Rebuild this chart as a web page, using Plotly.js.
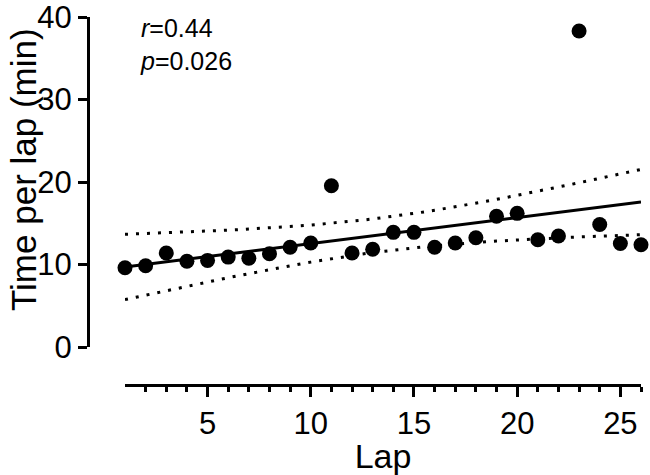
<!DOCTYPE html>
<html>
<head>
<meta charset="utf-8">
<script src="https://cdn.plot.ly/plotly-3.0.1.min.js"></script>
<style>html,body{margin:0;padding:0;background:#fff;}#chart{width:650px;height:475px;}</style>
</head>
<body>
<div id="chart"></div>
<script>
// Lap number
const laps = [1,2,3,4,5,6,7,8,9,10,11,12,13,14,15,16,17,18,19,20,21,22,23,24,25,26];
// Time per lap (min)
const lapTimes = [9.6,9.85,11.4,10.4,10.5,10.9,10.75,11.3,12.1,12.6,19.55,11.4,11.85,13.9,13.9,12.1,12.6,13.25,15.85,16.2,13.0,13.45,38.3,14.85,12.55,12.4];
const yTicks = [0,10,20,30,40];
const xTicks = [5,10,15,20,25];
const xTitle = "Lap";
const yTitle = "Time per lap (min)";
const statText = "<i>r</i>=0.44<br><i>p</i>=0.026";

// Linear regression with 95% confidence band, computed from the data
const n = laps.length;
const mx = laps.reduce((a,b)=>a+b,0)/n;
const my = lapTimes.reduce((a,b)=>a+b,0)/n;
let sxx=0, sxy=0;
for (let i=0;i<n;i++){ sxx += (laps[i]-mx)**2; sxy += (laps[i]-mx)*(lapTimes[i]-my); }
const slope = sxy/sxx, icpt = my - slope*mx;
let sse=0;
for (let i=0;i<n;i++){ sse += (lapTimes[i]-(icpt+slope*laps[i]))**2; }
const s = Math.sqrt(sse/(n-2));
const tcrit = 2.064; // t(0.975, 24)
const fitX=[], fitY=[], upY=[], loY=[];
const x0 = laps[0], x1 = laps[n-1];
for (let k=0;k<=50;k++){
  const x = x0 + (x1-x0)*k/50;
  const yh = icpt + slope*x;
  const se = s*Math.sqrt(1/n + (x-mx)**2/sxx);
  fitX.push(x); fitY.push(yh); upY.push(yh+tcrit*se); loY.push(yh-tcrit*se);
}

const FONT = "Liberation Sans, Arial, Helvetica, sans-serif";
const dotLine = {color:"#000", width:3, dash:"3px,8px"};

const traces = [
  {x:fitX, y:upY, mode:"lines", line:dotLine, hoverinfo:"skip", showlegend:false, cliponaxis:false},
  {x:fitX, y:loY, mode:"lines", line:dotLine, hoverinfo:"skip", showlegend:false, cliponaxis:false},
  {x:fitX, y:fitY, mode:"lines", line:{color:"#000", width:3}, hoverinfo:"skip", showlegend:false, cliponaxis:false},
  {x:laps, y:lapTimes, mode:"markers", marker:{color:"#000", size:15}, showlegend:false, cliponaxis:false}
];

const layout = {
  width:650, height:475,
  margin:{l:88, r:9, t:17, b:90, autoexpand:false},
  paper_bgcolor:"#fff", plot_bgcolor:"#fff",
  font:{family:FONT, color:"#000"},
  showlegend:false,
  xaxis:{
    domain:[37/553, 1],
    range:[1,26],
    anchor:"free", position:0,
    showgrid:false, zeroline:false,
    showline:true, linecolor:"#000", linewidth:3,
    tickmode:"array", tickvals:xTicks, ticktext:xTicks.map(String),
    ticks:"outside", ticklen:10, tickwidth:3, tickcolor:"#000",
    tickfont:{size:31, family:FONT}, ticklabeloverflow:"allow",
    minor:{tickmode:"array", tickvals:laps.slice(1), ticks:"outside", ticklen:5, tickwidth:3, tickcolor:"#000", showgrid:false},
    title:{text:xTitle, font:{size:34, family:FONT}, standoff:8}
  },
  yaxis:{
    domain:[38/368, 1],
    range:[0,40],
    anchor:"free", position:0,
    showgrid:false, zeroline:false,
    showline:true, linecolor:"#000", linewidth:3,
    tickmode:"array", tickvals:yTicks, ticktext:yTicks.map(String),
    ticks:"outside", ticklen:9, tickwidth:3, tickcolor:"#000",
    tickfont:{size:31, family:FONT}, ticklabeloverflow:"allow"
  },
  annotations:[
    {xref:"paper", yref:"paper", x:(23-88)/553, y:(385-170)/368, xanchor:"center", yanchor:"middle", textangle:-90, showarrow:false,
     text:yTitle, font:{size:35, family:FONT, color:"#000"}},
    {xref:"paper", yref:"paper", x:50/553, y:(385-44)/368, xanchor:"left", yanchor:"middle", align:"left", showarrow:false,
     text:statText, font:{size:25, family:FONT, color:"#000"}}
  ]
};

Plotly.newPlot("chart", traces, layout, {displayModeBar:false, staticPlot:true});
</script>
</body>
</html>
